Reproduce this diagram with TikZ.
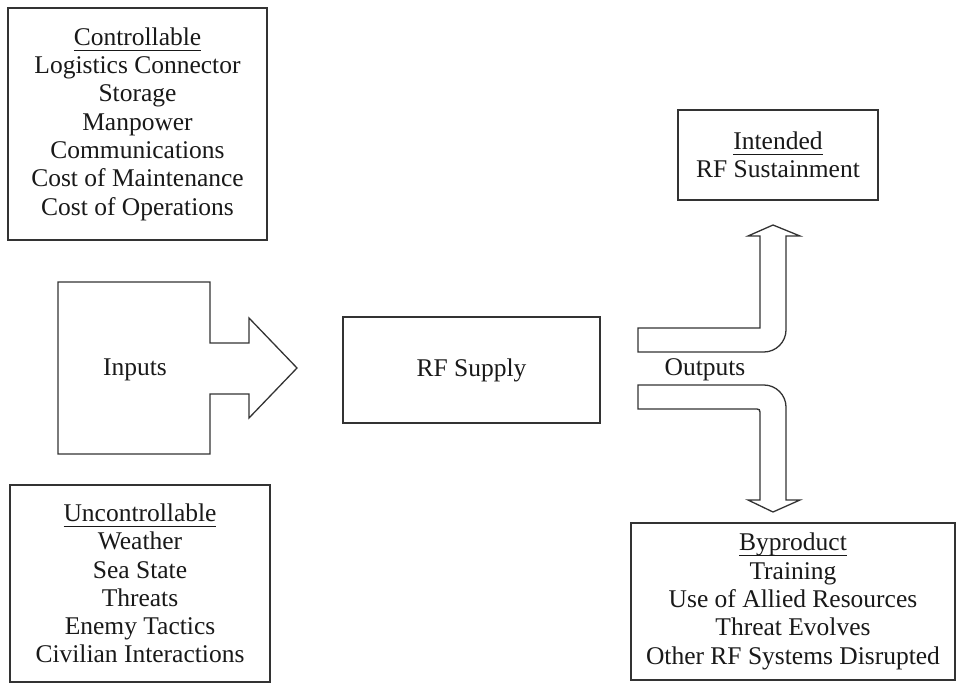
\documentclass[tikz,border=0pt]{standalone}
\usepackage{fontspec}
\setmainfont{Liberation Serif}
\newcommand\myul[1]{\setbox0\hbox{#1}\rlap{\rule[-5.5pt]{\wd0}{1.1pt}}\box0}
\begin{document}
\begin{tikzpicture}[x=1pt,y=-1pt,
  ln/.style={draw=black!80,line width=1.3pt},
  box/.style={ln,fill=white,inner sep=0pt,align=center,
    font=\fontsize{25.5}{28.3}\selectfont,text=black!90},
  lbl/.style={inner sep=0pt,font=\fontsize{25.5}{28.3}\selectfont,text=black!90}]
\useasboundingbox (0,0) rectangle (961,684);
% Controllable
\node[box,minimum width=259pt,minimum height=232pt] (ctrl) at (137.5,124)
 {\myul{Controllable}\\Logistics Connector\\Storage\\Manpower\\Communications\\Cost of Maintenance\\Cost of Operations};
% Uncontrollable
\node[box,minimum width=260pt,minimum height=197pt] (unctrl) at (140,583.5)
 {\myul{Uncontrollable}\\Weather\\Sea State\\Threats\\Enemy Tactics\\Civilian Interactions};
% Inputs arrow
\draw[ln,line join=miter] (58,282) -- (210,282) -- (210,343) -- (249,343) -- (249,318) -- (297,368)
  -- (249,418) -- (249,394) -- (210,394) -- (210,454) -- (58,454) -- cycle;
\node[lbl] (inputs) at (135,370) {Inputs};
% RF Supply
\node[box,minimum width=257pt,minimum height=106pt] (rf) at (471.5,370) {RF Supply};
% Output arrows
\draw[ln,line join=miter] (638,328) -- (760,328) -- (760,236) -- (748,236) -- (773,225) -- (800,236) -- (786,236)
  -- (786,330) .. controls (786,342) and (776,352) .. (764,352) -- (638,352) -- cycle;
\draw[ln,line join=miter] (638,385) -- (764,385) .. controls (776,385) and (786,395) .. (786,407)
  -- (786,500) -- (800,500) -- (773,512) -- (748,500) -- (760,500) -- (760,412)
  .. controls (760,410) and (759,409) .. (757,409) -- (638,409) -- cycle;
\node[lbl] (outputs) at (705,370) {Outputs};
% Intended
\node[box,minimum width=200pt,minimum height=90pt] (intended) at (778,155)
 {\myul{Intended}\\RF Sustainment};
% Byproduct
\node[box,minimum width=324pt,minimum height=157pt] (byprod) at (793,601.5)
 {\myul{Byproduct}\\Training\\Use of Allied Resources\\Threat Evolves\\Other RF Systems Disrupted};
\end{tikzpicture}
\end{document}
